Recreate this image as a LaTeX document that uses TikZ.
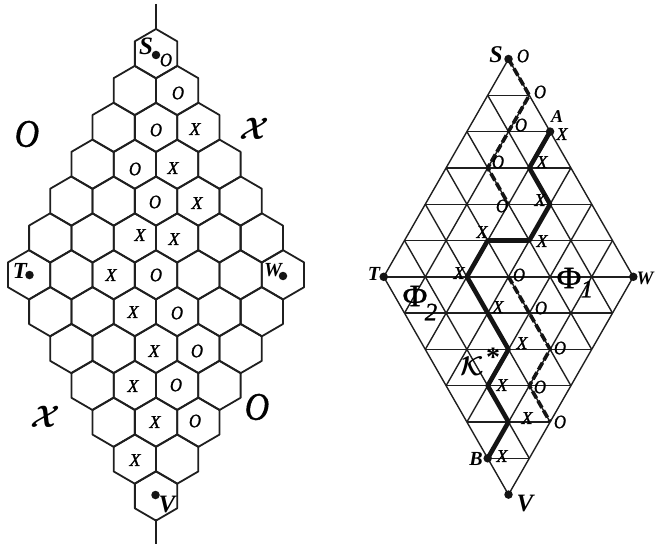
\documentclass[tikz,border=0pt]{standalone}
\usepackage{fontspec}
\setmainfont{Liberation Serif}
\newfontfamily\xof[ItalicFeatures={FakeBold=1.2},UprightFeatures={FakeBold=0.8}]{Liberation Serif}
\font\calbfx=cmbsy10 at 31pt
\font\calbfk=cmbsy10 at 27pt
\tikzset{
  hexline/.style={line width=1.8pt,line join=round,black!88},
  gridline/.style={line width=1.4pt,black!88},
  pathk/.style={line width=4.6pt,line join=round,black!92},
  pathd/.style={line width=3.6pt,black!92,dash pattern=on 8pt off 3pt},
  dotmark/.style={circle,fill=black!92,inner sep=0pt,minimum size=8.5pt},
  xo/.style={inner sep=0pt,font=\fontsize{18}{18}\xof\itshape},
  oo/.style={inner sep=0pt,xscale=.88,font=\fontsize{19}{19}\xof\itshape},
  pole/.style={inner sep=0pt,font=\fontsize{20}{20}\selectfont\bfseries\itshape},
  big/.style={inner sep=0pt,xscale=.86,font=\fontsize{39}{39}\xof\itshape},
  phi/.style={inner sep=0pt,xscale=1.1,font=\fontsize{31}{31}\xof},
  phisub/.style={inner sep=0pt,font=\fontsize{25}{25}\xof\itshape}
}
\begin{document}
\begin{tikzpicture}[x=1pt,y=-1pt]
\useasboundingbox (0,0) rectangle (655,548);
% --- hexagon board
\foreach \r in {0,...,12}{
  \pgfmathtruncatemacro{\n}{min(\r,12-\r)}
  \foreach \j in {0,...,\n}{
    \pgfmathsetmacro{\cx}{156+(2*\j-\n)*21.15}
    \pgfmathsetmacro{\cy}{53.7+\r*36.85}
    \draw[hexline] (\cx,\cy-24.7) -- ++(21.15,12.3) -- ++(0,24.8) -- ++(-21.15,12.3) -- ++(-21.15,-12.3) -- ++(0,-24.8) -- cycle;
  }
}
\coordinate (stubA) at (156,4);
\coordinate (stubB) at (156,29);
\coordinate (stubC) at (156,519);
\coordinate (stubD) at (156,544);
\draw[hexline] (stubA) -- (stubB);
\draw[hexline] (stubC) -- (stubD);
\node[dotmark] (hS) at (156,55) {};
\node[dotmark] (hT) at (29.5,275) {};
\node[dotmark] (hW) at (283,276) {};
\node[dotmark] (hV) at (155.5,495) {};
\node[pole,font=\fontsize{25}{25}\selectfont\bfseries\itshape] (hSl) at (146,46) {S};
\node[pole,font=\fontsize{23}{23}\selectfont\bfseries\itshape] (hTl) at (20,271) {T};
\node[pole] (hWl) at (273,270) {W};
\node[pole,font=\fontsize{25}{25}\selectfont\bfseries\itshape] (hVl) at (167,504) {V};
\foreach \x/\y/\t [count=\n] in {
 195/129/X,173/168/X,197/203/X,140/235/X,174/239/X,111/275/X,133/312/X,154/351/X,
 133/386/X,155/422/X,135/460/X}
  \node[xo] (hlx\n) at (\x,\y) {\t};
\foreach \x/\y/\t [count=\n] in {
 166/60/O,178/93/O,156/130/O,135/169/O,155/202/O,156/275/O,177/313/O,197/351/O,
 176/385/O,195/421/O}
  \node[oo] (hlo\n) at (\x,\y) {\t};
\node[big] (bigO1) at (27,134) {O};
\node[big] (bigO2) at (257,407) {O};
\node[inner sep=0pt] (bigX1) at (252,129) {\calbfx X};
\node[inner sep=0pt] (bigX2) at (43,417) {\calbfx X};
% --- triangular grid
\foreach \a in {0,...,6}
  \foreach \b in {0,...,6}
    \coordinate (p-\a-\b) at ({508.5+(\a-\b)*20.8},{59+(\a+\b)*36.3});
\foreach \i in {0,...,6}{
  \draw[gridline] (p-\i-0) -- (p-\i-6);
  \draw[gridline] (p-0-\i) -- (p-6-\i);
}
\foreach \l in {1,...,6}
  \draw[gridline] (p-0-\l) -- (p-\l-0);
\foreach \l in {1,...,5}
  \draw[gridline] (p-\l-6) -- (p-6-\l);
% thick path
\draw[pathk] (p-2-0) -- (p-2-1) -- (p-3-1) -- (p-3-2) -- (p-2-3) -- (p-2-4) -- (p-3-4) -- (p-4-4) -- (p-4-5) -- (p-5-5) -- (p-5-6);
% dashed paths
\draw[pathd] (p-0-0) -- (p-1-0) -- (p-1-1) -- (p-1-2) -- (p-2-2);
\draw[pathd] (p-3-3) -- (p-4-3) -- (p-5-3) -- (p-5-4) -- (p-6-4);
% dots
\foreach \q/\nm in {0-0/tS,0-6/tT,6-0/tW,6-6/tV,2-0/tA,5-6/tB}
  \node[dotmark] (\nm) at (p-\q) {};
\node[pole,font=\fontsize{24}{24}\selectfont\bfseries\itshape] (tSl) at (496,55) {S};
\node[pole] (tTl) at (374,274) {T};
\node[pole,font=\fontsize{19}{19}\selectfont\bfseries\itshape] (tWl) at (645,278) {W};
\node[pole,font=\fontsize{25}{25}\selectfont\bfseries\itshape] (tVl) at (525,503) {V};
\node[pole,font=\fontsize{18}{18}\selectfont\bfseries\itshape] (tAl) at (557,117) {A};
\node[pole] (tBl) at (476,459) {B};
\foreach \x/\y/\t [count=\n] in {
 562/134/X,542/162/X,540/200/X,482/232/X,542/241/X,459/273/X,498/307/X,522/343/X,
 502/385/X,527/418/X,502/456/X}
  \node[xo] (tlx\n) at (\x,\y) {\t};
\foreach \x/\y/\t [count=\n] in {
 523/56/O,540/92/O,521/125/O,498/162/O,502/206/O,519/275/O,541/308/O,560/348/O,
 540/387/O,560/422/O}
  \node[oo] (tlo\n) at (\x,\y) {\t};
\node[phi] (phiA) at (569,278) {Φ};
\node[phisub] (phiAs) at (587,289) {1};
\node[phi] (phiB) at (415,296) {Φ};
\node[phisub] (phiBs) at (431,312) {2};
\node[inner sep=0pt] (kK) at (472,366) {\calbfk K};
\node[inner sep=0pt,font=\fontsize{28}{28}\selectfont\bfseries] (kS) at (493,357) {*};
\end{tikzpicture}
\end{document}
